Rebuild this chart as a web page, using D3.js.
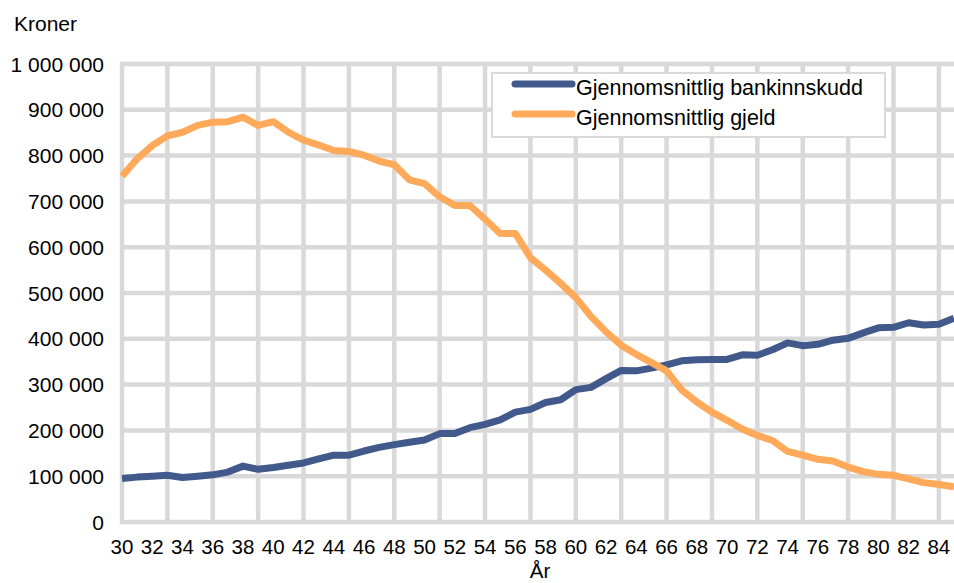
<!DOCTYPE html>
<html>
<head>
<meta charset="utf-8">
<script src="https://cdn.jsdelivr.net/npm/d3@7"></script>
<style>
  body { margin: 0; background: #fff; }
  text { font-family: "Liberation Sans", Arial, sans-serif; fill: #000; }
</style>
</head>
<body>
<div id="chart"></div>
<script>
var width = 954,
    height = 583;

var ages = [30, 31, 32, 33, 34, 35, 36, 37, 38, 39, 40, 41, 42, 43, 44, 45, 46, 47, 48, 49,
    50, 51, 52, 53, 54, 55, 56, 57, 58, 59, 60, 61, 62, 63, 64, 65, 66, 67, 68, 69,
    70, 71, 72, 73, 74, 75, 76, 77, 78, 79, 80, 81, 82, 83, 84, 85];

// Gjennomsnittlig bankinnskudd (kroner)
var innskudd = [95000, 98000, 100000, 102000, 97000, 100000, 103000, 109000, 122000, 115000,
    119000, 124000, 129000, 138000, 146000, 146000, 155000, 163000, 169000, 174000,
    179000, 193000, 193000, 206000, 213000, 223000, 240000, 246000, 261000, 267000,
    289000, 294000, 313000, 331000, 330000, 336000, 343000, 352000, 354000, 355000,
    355000, 365000, 364000, 376000, 391000, 385000, 388000, 397000, 401000, 413000,
    424000, 425000, 435000, 430000, 432000, 445000];

// Gjennomsnittlig gjeld (kroner)
var gjeld = [755000, 793000, 822000, 843000, 851000, 866000, 873000, 874000, 884000, 866000,
    874000, 851000, 834000, 823000, 811000, 809000, 801000, 788000, 780000, 747000,
    739000, 710000, 691000, 691000, 661000, 630000, 630000, 577000, 550000, 521000,
    490000, 449000, 415000, 386000, 366000, 348000, 330000, 288000, 262000, 240000,
    222000, 203000, 189000, 178000, 154000, 146000, 137000, 133000, 120000, 110000,
    104000, 102000, 94000, 86000, 82000, 77000];

var yTicks = [0, 100000, 200000, 300000, 400000, 500000, 600000, 700000, 800000, 900000, 1000000];
var xLabels = [30, 32, 34, 36, 38, 40, 42, 44, 46, 48, 50, 52, 54, 56, 58, 60, 62, 64, 66, 68,
    70, 72, 74, 76, 78, 80, 82, 84];
var xGrid = [30, 33, 36, 39, 42, 45, 48, 51, 54, 57, 60, 63, 66, 69, 72, 75, 78, 81, 84];

var series = [
    { name: "Gjennomsnittlig bankinnskudd", values: innskudd, color: "#425a8b" },
    { name: "Gjennomsnittlig gjeld", values: gjeld, color: "#ffaa5a" }
];

var margin = { top: 64, right: 0, bottom: 61, left: 122 };

var x = d3.scaleLinear()
    .domain([30, 85])
    .range([margin.left, width - margin.right]);

var y = d3.scaleLinear()
    .domain([0, 1000000])
    .range([height - margin.bottom, margin.top]);

var fmt = function (d) { return d3.format(",")(d).replace(/,/g, " "); };

var svg = d3.select("#chart").append("svg")
    .attr("width", width)
    .attr("height", height);

var grid = svg.append("g").attr("class", "grid");

// horizontal gridlines
grid.selectAll("line.h")
    .data(yTicks)
    .enter().append("line")
    .attr("class", "h")
    .attr("x1", x(30) - 2)
    .attr("x2", width)
    .attr("y1", function (d) { return y(d); })
    .attr("y2", function (d) { return y(d); })
    .attr("stroke", "#d9d9d9")
    .attr("stroke-width", 4.5);

// vertical gridlines
grid.selectAll("line.v")
    .data(xGrid)
    .enter().append("line")
    .attr("class", "v")
    .attr("x1", function (d) { return x(d); })
    .attr("x2", function (d) { return x(d); })
    .attr("y1", y(1000000) - 2)
    .attr("y2", y(0) + 2)
    .attr("stroke", "#d9d9d9")
    .attr("stroke-width", 4.5);

// y tick labels
svg.append("g").selectAll("text")
    .data(yTicks)
    .enter().append("text")
    .attr("x", 104)
    .attr("y", function (d) { return y(d) + 7.5; })
    .attr("text-anchor", "end")
    .attr("font-size", "21px")
    .text(fmt);

// x tick labels
svg.append("g").selectAll("text")
    .data(xLabels)
    .enter().append("text")
    .attr("x", function (d) { return x(d); })
    .attr("y", 554)
    .attr("text-anchor", "middle")
    .attr("font-size", "20.5px")
    .text(function (d) { return d; });

svg.append("text")
    .attr("x", 14)
    .attr("y", 31)
    .attr("font-size", "21px")
    .text("Kroner");

svg.append("text")
    .attr("x", (x(30) + x(85)) / 2 + 2)
    .attr("y", 578)
    .attr("text-anchor", "middle")
    .attr("font-size", "20.5px")
    .text("År");

var line = d3.line()
    .x(function (d, i) { return x(ages[i]); })
    .y(function (d) { return y(d); });

svg.append("g").selectAll("path")
    .data(series)
    .enter().append("path")
    .attr("d", function (s) { return line(s.values); })
    .attr("fill", "none")
    .attr("stroke", function (s) { return s.color; })
    .attr("stroke-width", 7)
    .attr("stroke-linejoin", "round");

// legend
var legend = svg.append("g").attr("class", "legend");

legend.append("rect")
    .attr("x", 492)
    .attr("y", 73)
    .attr("width", 393)
    .attr("height", 64)
    .attr("fill", "#fff")
    .attr("stroke", "#d9d9d9")
    .attr("stroke-width", 2);

var item = legend.selectAll("g.item")
    .data(series)
    .enter().append("g")
    .attr("class", "item")
    .attr("transform", function (d, i) { return "translate(0," + (84 + i * 30) + ")"; });

item.append("line")
    .attr("x1", 515)
    .attr("x2", 572)
    .attr("y1", 0)
    .attr("y2", 0)
    .attr("stroke", function (d) { return d.color; })
    .attr("stroke-width", 7)
    .attr("stroke-linecap", "round");

item.append("text")
    .attr("x", 576)
    .attr("y", 10.5)
    .attr("font-size", "21.5px")
    .text(function (d) { return d.name; });
</script>
</body>
</html>
